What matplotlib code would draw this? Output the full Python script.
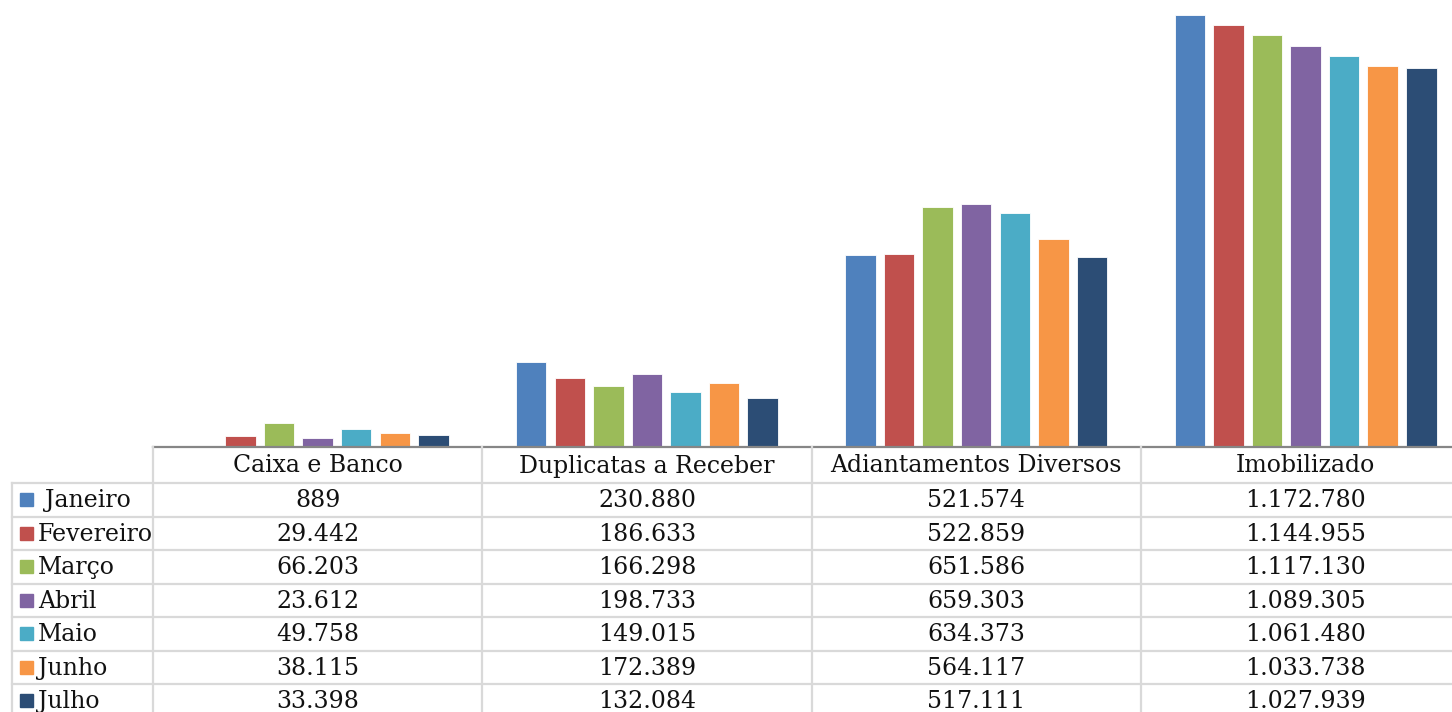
import matplotlib.pyplot as plt
import numpy as np

# dados do balanço (valores em R$)
categorias = ["Caixa e Banco", "Duplicatas a Receber", "Adiantamentos Diversos", "Imobilizado"]
meses = ["Janeiro", "Fevereiro", "Março", "Abril", "Maio", "Junho", "Julho"]
janeiro = [889, 230880, 521574, 1172780]
fevereiro = [29442, 186633, 522859, 1144955]
marco = [66203, 166298, 651586, 1117130]
abril = [23612, 198733, 659303, 1089305]
maio = [49758, 149015, 634373, 1061480]
junho = [38115, 172389, 564117, 1033738]
julho = [33398, 132084, 517111, 1027939]
series = [janeiro, fevereiro, marco, abril, maio, junho, julho]
cores = ["#4F81BD", "#C0504D", "#9BBB59", "#8064A2", "#4BACC6", "#F79646", "#2C4D75"]


def fmt(v):
    return f"{v:,}".replace(",", ".")


W, H = 1452, 712
fig = plt.figure(figsize=(W / 100, H / 100), dpi=100)
fonte = "DejaVu Serif"
fs = 17

# área do gráfico (em pixels da figura); passa um pouco da borda direita
x0, base = 153, 447
col_w = 329.3
ax = fig.add_axes([x0 / W, (H - base) / H, 4 * col_w / W, base / H])
n = len(series)
slot = 0.82 / n
x = np.arange(len(categorias))
for i, (s, c) in enumerate(zip(series, cores)):
    ax.bar(x - 0.41 + slot * (i + 0.5), s, width=slot * 0.79, color=c,
           edgecolor="white", linewidth=0.6)
ax.set_xlim(-0.5, len(categorias) - 0.5)
ax.set_ylim(0, max(janeiro) * 447 / 432)
ax.set_yticks([])
ax.set_xticks([])
for sp in ["top", "right", "left"]:
    ax.spines[sp].set_visible(False)
ax.spines["bottom"].set_color("#868686")
ax.spines["bottom"].set_linewidth(1.6)

# tabela de dados abaixo do gráfico
tb = fig.add_axes([0, 0, 1, 1])
tb.set_xlim(0, W)
tb.set_ylim(H, 0)
tb.axis("off")
head_h = 36
row_h = 33.5
grid = "#d9d9d9"
bottom = base + head_h + row_h * len(meses)
right = x0 + 4 * col_w

# linhas verticais
for k in range(len(categorias) + 1):
    xv = x0 + k * col_w
    tb.plot([xv, xv], [base, bottom], color=grid, lw=1.6)
tb.plot([12, 12], [base + head_h, bottom], color=grid, lw=1.6)
# linhas horizontais
for r in range(len(meses) + 1):
    yv = base + head_h + r * row_h
    tb.plot([12, right], [yv, yv], color=grid, lw=1.6)

for k, cat in enumerate(categorias):
    tb.text(x0 + (k + 0.5) * col_w, base + head_h / 2 + 1, cat, ha="center", va="center",
            fontsize=fs, family=fonte, color="#111111")

for r, (mes, s, c) in enumerate(zip(meses, series, cores)):
    yc = base + head_h + (r + 0.5) * row_h + 1
    tb.add_patch(plt.Rectangle((20, yc - 7.5), 13, 13, color=c))
    tb.text(38 if r else 45, yc, mes, ha="left", va="center", fontsize=fs,
            family=fonte, color="#111111")
    for k, v in enumerate(s):
        tb.text(x0 + (k + 0.5) * col_w, yc, fmt(v), ha="center", va="center",
                fontsize=fs, family=fonte, color="#111111")

fig.savefig("out.png", dpi=100)
